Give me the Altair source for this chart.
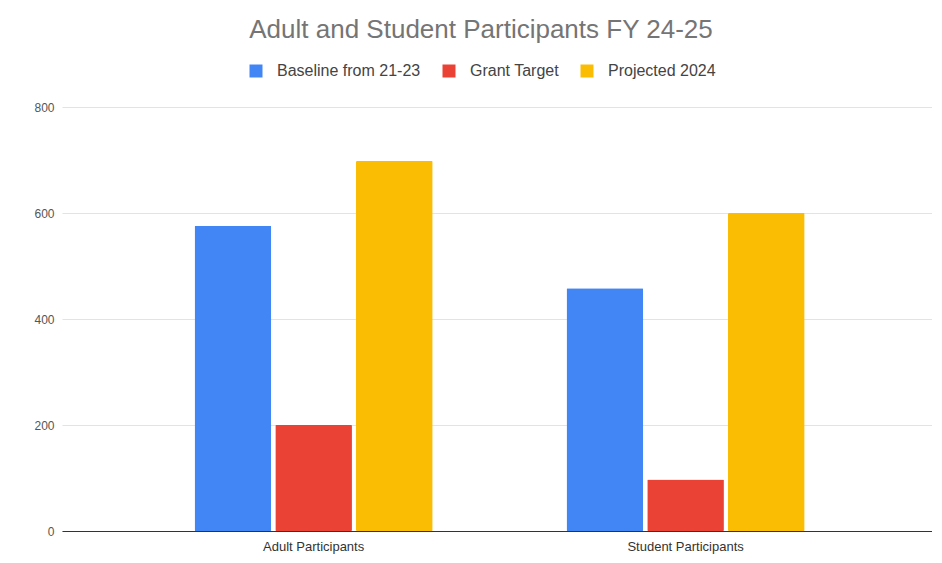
import altair as alt
import pandas as pd

categories = ["Adult Participants", "Student Participants"]
series = ["Baseline from 21-23", "Grant Target", "Projected 2024"]
baseline = [576, 458]
grant_target = [200, 97]
projected = [698, 600]
colors = ["#4285F4", "#EA4335", "#FBBC04"]

rows = []
for i, c in enumerate(categories):
    for s, vals in zip(series, [baseline, grant_target, projected]):
        rows.append({"Category": c, "Series": s, "Value": vals[i]})
df = pd.DataFrame(rows)

FONT = "Liberation Sans"

chart = alt.Chart(df).mark_bar(cornerRadius=1).encode(
    x=alt.X("Category:N", sort=categories, title=None,
            scale=alt.Scale(paddingInner=0.36, paddingOuter=0.3495, align=0.51),
            axis=alt.Axis(labelAngle=0, labelFontSize=13, labelColor="#333333",
                          labelFont=FONT, ticks=False, domainColor="#333333",
                          domainWidth=1, labelPadding=9, grid=False)),
    xOffset=alt.XOffset("Series:N", sort=series,
                        scale=alt.Scale(paddingInner=0.05, paddingOuter=0)),
    y=alt.Y("Value:Q", title=None,
            scale=alt.Scale(domain=[0, 800], nice=False),
            axis=alt.Axis(values=[0, 200, 400, 600, 800], labelFontSize=12,
                          labelColor="#555555", labelFont=FONT, ticks=False,
                          domain=False, labelPadding=8, gridColor="#e3e3e3",
                          gridWidth=1)),
    color=alt.Color("Series:N", sort=series,
                    scale=alt.Scale(domain=series, range=colors),
                    legend=alt.Legend(orient="none", legendX=186, legendY=-44,
                                      direction="horizontal", title=None,
                                      symbolType="square", symbolSize=169,
                                      symbolStrokeWidth=0, labelFontSize=16,
                                      labelColor="#444444", labelFont=FONT,
                                      labelOffset=13, columnPadding=20)),
).properties(
    width=870,
    height=424,
    title=alt.TitleParams("Adult and Student Participants FY 24-25",
                          anchor="middle", fontSize=26, font=FONT,
                          fontWeight="normal", color="#757575", dx=-16,
                          offset=20),
    autosize=alt.AutoSizeParams(type="none"),
    padding={"left": 54, "top": 99, "right": 0, "bottom": 24},
).configure_view(stroke=None)

chart.save("out.html", embed_options={"renderer": "svg", "actions": False})
